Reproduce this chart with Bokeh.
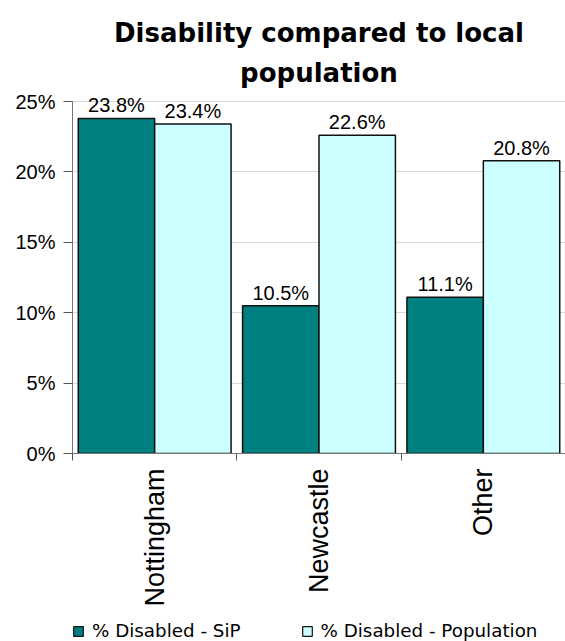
import numpy as np
from bokeh.plotting import figure
from bokeh.layouts import column
from bokeh.core.properties import value
from bokeh.models import (ColumnDataSource, FixedTicker, PrintfTickFormatter, Range1d,
                          LabelSet, Legend, LegendItem, Title)
from bokeh.transform import dodge
from bokeh.embed import file_html
from bokeh.resources import INLINE

categories = ["Nottingham", "Newcastle", "Other"]
sip = [23.8, 10.5, 11.1]
population = [23.4, 22.6, 20.8]
y_ticks = [0, 5, 10, 15, 20, 25]
series_names = ["% Disabled - SiP", "% Disabled - Population"]
title_lines = ["Disability compared to local", "population"]

TEAL = "#008080"
CYAN = "#CCFFFF"
EDGE = "#111111"

xc = np.arange(len(categories)) + 0.5
src = ColumnDataSource(dict(
    x=xc,
    sip=sip,
    pop=population,
    sip_lbl=[f"{v:.1f}%" for v in sip],
    pop_lbl=[f"{v:.1f}%" for v in population],
))

p = figure(width=565, height=613, output_backend="svg", toolbar_location=None,
           x_range=Range1d(0, len(categories)), y_range=Range1d(0, 25.5),
           min_border_left=72, min_border_right=0, min_border_top=94,
           min_border_bottom=160)
p.outline_line_color = None
p.background_fill_color = "white"
p.border_fill_color = "white"

# titles
p.title.text = title_lines[0]
p.title.align = "center"
p.title.text_font = "DejaVu Sans"
p.title.text_font_size = "26px"
p.title.text_font_style = "bold"
p.title.text_color = "black"
p.title.standoff = 3
p.add_layout(Title(text=title_lines[1], align="center", text_font="DejaVu Sans",
                   text_font_size="26px", text_font_style="bold", text_color="black",
                   standoff=13), "above")

W = 0.465
D = 0.2325
p.vbar(x=dodge("x", -D), top="sip", width=W, bottom=0, source=src,
       fill_color=TEAL, line_color=EDGE, line_width=1.5)
p.vbar(x=dodge("x", D), top="pop", width=W, bottom=0, source=src,
       fill_color=CYAN, line_color=EDGE, line_width=1.5)

lab_kw = dict(text_font=value("Liberation Sans"), text_font_size=value("20px"),
              text_align="center", text_baseline="alphabetic", y_offset=6,
              text_color="black")
p.add_layout(LabelSet(x=dodge("x", -D), y="sip", text="sip_lbl", source=src, **lab_kw))
p.add_layout(LabelSet(x=dodge("x", D), y="pop", text="pop_lbl", source=src, **lab_kw))

# y axis
p.yaxis.ticker = FixedTicker(ticks=y_ticks, minor_ticks=[])
p.yaxis.bounds = (y_ticks[0], y_ticks[-1])
p.yaxis.formatter = PrintfTickFormatter(format="%d%%")
p.yaxis.axis_line_color = "#777777"
p.yaxis.major_tick_line_color = "#555555"
p.yaxis.major_tick_in = 0
p.yaxis.major_tick_out = 9
p.yaxis.major_label_standoff = 8
p.yaxis.major_label_text_font = "Liberation Sans"
p.yaxis.major_label_text_font_size = "20px"
p.yaxis.major_label_text_color = "black"

# x axis: labels at centres, ticks at boundaries
p.xaxis.ticker = FixedTicker(ticks=list(xc), minor_ticks=list(range(len(categories) + 1)))
p.xaxis.major_label_overrides = {float(x): c for x, c in zip(xc, categories)}
p.xaxis.major_tick_in = 0
p.xaxis.major_tick_out = 0
p.xaxis.minor_tick_in = 0
p.xaxis.minor_tick_out = 7
p.xaxis.minor_tick_line_color = "#555555"
p.xaxis.axis_line_color = "#777777"
p.xaxis.major_label_orientation = np.pi / 2
p.xaxis.major_label_standoff = 8
p.xaxis.major_label_text_font = "Liberation Sans"
p.xaxis.major_label_text_font_size = "27px"
p.xaxis.major_label_text_color = "black"

p.xgrid.grid_line_color = None
p.ygrid.ticker = FixedTicker(ticks=y_ticks)
p.ygrid.grid_line_color = "#d9d9d9"
p.ygrid.grid_line_width = 1

# legend strip underneath the chart (zero-size proxy bars carry the key styles)
lf = figure(width=565, height=28, output_backend="svg", toolbar_location=None,
            x_axis_type=None, y_axis_type=None,
            x_range=Range1d(0, 1), y_range=Range1d(0, 1),
            min_border=0, min_border_left=0, min_border_right=0,
            min_border_top=0, min_border_bottom=0)
lf.outline_line_color = None
lf.grid.grid_line_color = None
k1 = lf.vbar(x=[0], top=[0], bottom=[0], width=0, fill_color=TEAL, line_color=EDGE,
             line_width=1.2)
k2 = lf.vbar(x=[0], top=[0], bottom=[0], width=0, fill_color=CYAN, line_color=EDGE,
             line_width=1.2)
legend = Legend(items=[LegendItem(label=series_names[0], renderers=[k1]),
                       LegendItem(label=series_names[1], renderers=[k2])],
                orientation="horizontal", location=(0, 0),
                label_text_font="DejaVu Sans", label_text_font_size="18.3px",
                label_text_color="black",
                glyph_width=12, glyph_height=12, label_standoff=8, spacing=60,
                padding=0, margin=0, border_line_color=None, background_fill_alpha=0)
lf.add_layout(legend, "center")

layout = column(p, lf, spacing=0)
open("out.html", "w").write(file_html(layout, INLINE))
